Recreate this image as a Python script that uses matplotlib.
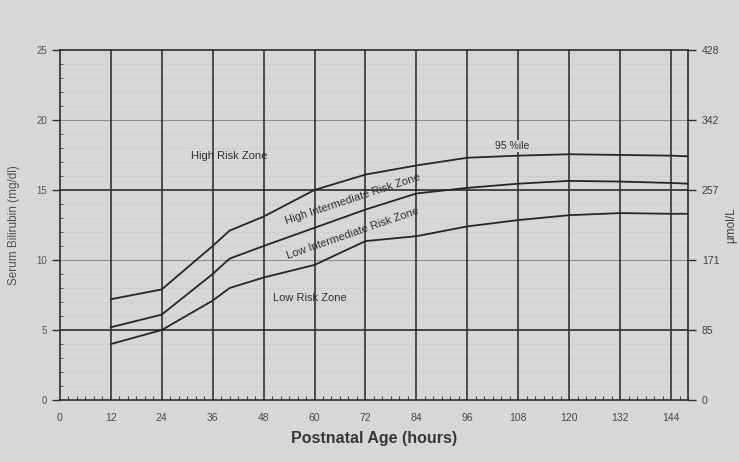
import numpy as np
import matplotlib
matplotlib.use("Agg")
import matplotlib.pyplot as plt

plt.rcParams['font.family'] = ['Liberation Sans', 'DejaVu Sans']

# ---- data ----
hours = [12, 24, 36, 40, 48, 60, 72, 84, 96, 108, 120, 132, 144, 148]
p95 = [7.2, 7.9, 11.0, 12.1, 13.1, 15.0, 16.1, 16.75, 17.3, 17.45, 17.55, 17.5, 17.45, 17.4]
p75 = [5.2, 6.1, 9.0, 10.1, 11.0, 12.3, 13.6, 14.75, 15.15, 15.45, 15.65, 15.6, 15.5, 15.45]
p40 = [4.0, 5.0, 7.1, 8.0, 8.75, 9.65, 11.35, 11.7, 12.4, 12.85, 13.2, 13.35, 13.3, 13.3]

x_ticks = [0, 12, 24, 36, 48, 60, 72, 84, 96, 108, 120, 132, 144]
x_labels = ['0', '12', '24', '36', '48', '60', '72', '84', '96', '108', '120', '132', '144']
y_ticks = [0, 5, 10, 15, 20, 25]
y_labels = ['0', '5', '10', '15', '20', '25']
umol_labels = ['0', '85', '171', '257', '342', '428']

bg = '#d7d7d5'
dark = '#2c2c2c'

fig = plt.figure(figsize=(7.39, 4.62), dpi=100, facecolor=bg)
ax = fig.add_axes([0.081, 0.134, 0.850, 0.758])
ax.set_facecolor(bg)
ax.set_xlim(0, 148)
ax.set_ylim(0, 25)

# faint dashed minor horizontal lines
for v in range(1, 25):
    if v % 5 != 0:
        ax.axhline(v, color='#bfbfbd', lw=0.6, dashes=(2, 3), zorder=1)
# major horizontal lines
for v, c, w in [(5, dark, 1.2), (15, dark, 1.2), (10, '#8f8f8d', 0.8), (20, '#8f8f8d', 0.8)]:
    ax.axhline(v, color=c, lw=w, zorder=2)
# vertical grid lines
for h in x_ticks[1:]:
    ax.axvline(h, color=dark, lw=1.15, zorder=2)

# percentile curves
for s in (p95, p75, p40):
    ax.plot(hours, s, color='#262626', lw=1.3, zorder=3)

# zone labels
tc = '#303030'
ax.text(40, 17.4, 'High Risk Zone', fontsize=8, color=tc, ha='center', va='center', zorder=4)
ax.text(69, 14.35, 'High Intermediate Risk Zone', fontsize=8, color=tc, ha='center', va='center',
        rotation=np.degrees(np.arctan(0.10)), transform_rotates_text=True, rotation_mode='anchor', zorder=4)
ax.text(69, 11.9, 'Low Intermediate Risk Zone', fontsize=8, color=tc, ha='center', va='center',
        rotation=np.degrees(np.arctan(0.105)), transform_rotates_text=True, rotation_mode='anchor', zorder=4)
ax.text(59, 7.3, 'Low Risk Zone', fontsize=8, color=tc, ha='center', va='center', zorder=4)
ax.text(106.5, 18.15, '95 %ile', fontsize=7.5, color=tc, ha='center', va='center', zorder=4,
        bbox=dict(facecolor=bg, edgecolor='none', pad=0.5))

# axes styling
for sp in ax.spines.values():
    sp.set_color(dark)
    sp.set_linewidth(1.2)
ax.set_xticks(x_ticks)
ax.set_xticklabels(x_labels)
ax.set_xticks(np.arange(0, 149, 2), minor=True)
ax.tick_params(axis='x', which='major', length=0, pad=9, labelsize=7.5, labelcolor='#4a4a4a')
ax.tick_params(axis='x', which='minor', direction='in', length=3, width=0.8, color='#444444')
ax.set_yticks(y_ticks)
ax.set_yticklabels(y_labels)
ax.set_yticks(np.arange(0, 26, 1), minor=True)
ax.tick_params(axis='y', which='major', direction='out', length=6, width=1.0, color=dark,
               labelsize=7, labelcolor='#555555', pad=3)
ax.tick_params(axis='y', which='minor', direction='in', length=2.5, width=0.7, color='#555555')

ax.set_xlabel('Postnatal Age (hours)', fontsize=11.5, fontweight='bold', color='#383838', labelpad=6)
ax.set_ylabel('Serum Bilirubin (mg/dl)', fontsize=8.5, color='#505050', labelpad=12)

ax2 = ax.twinx()
ax2.set_ylim(0, 25)
ax2.set_yticks(y_ticks)
ax2.set_yticklabels(umol_labels)
ax2.tick_params(axis='y', direction='out', length=6, width=1.0, color=dark,
                labelsize=7.5, labelcolor='#404040', pad=4)
for sp in ax2.spines.values():
    sp.set_visible(False)
ax2.set_ylabel('µmol/L', fontsize=8.5, color='#404040', rotation=90, labelpad=4)

fig.savefig('out.png', dpi=100, facecolor=bg)
